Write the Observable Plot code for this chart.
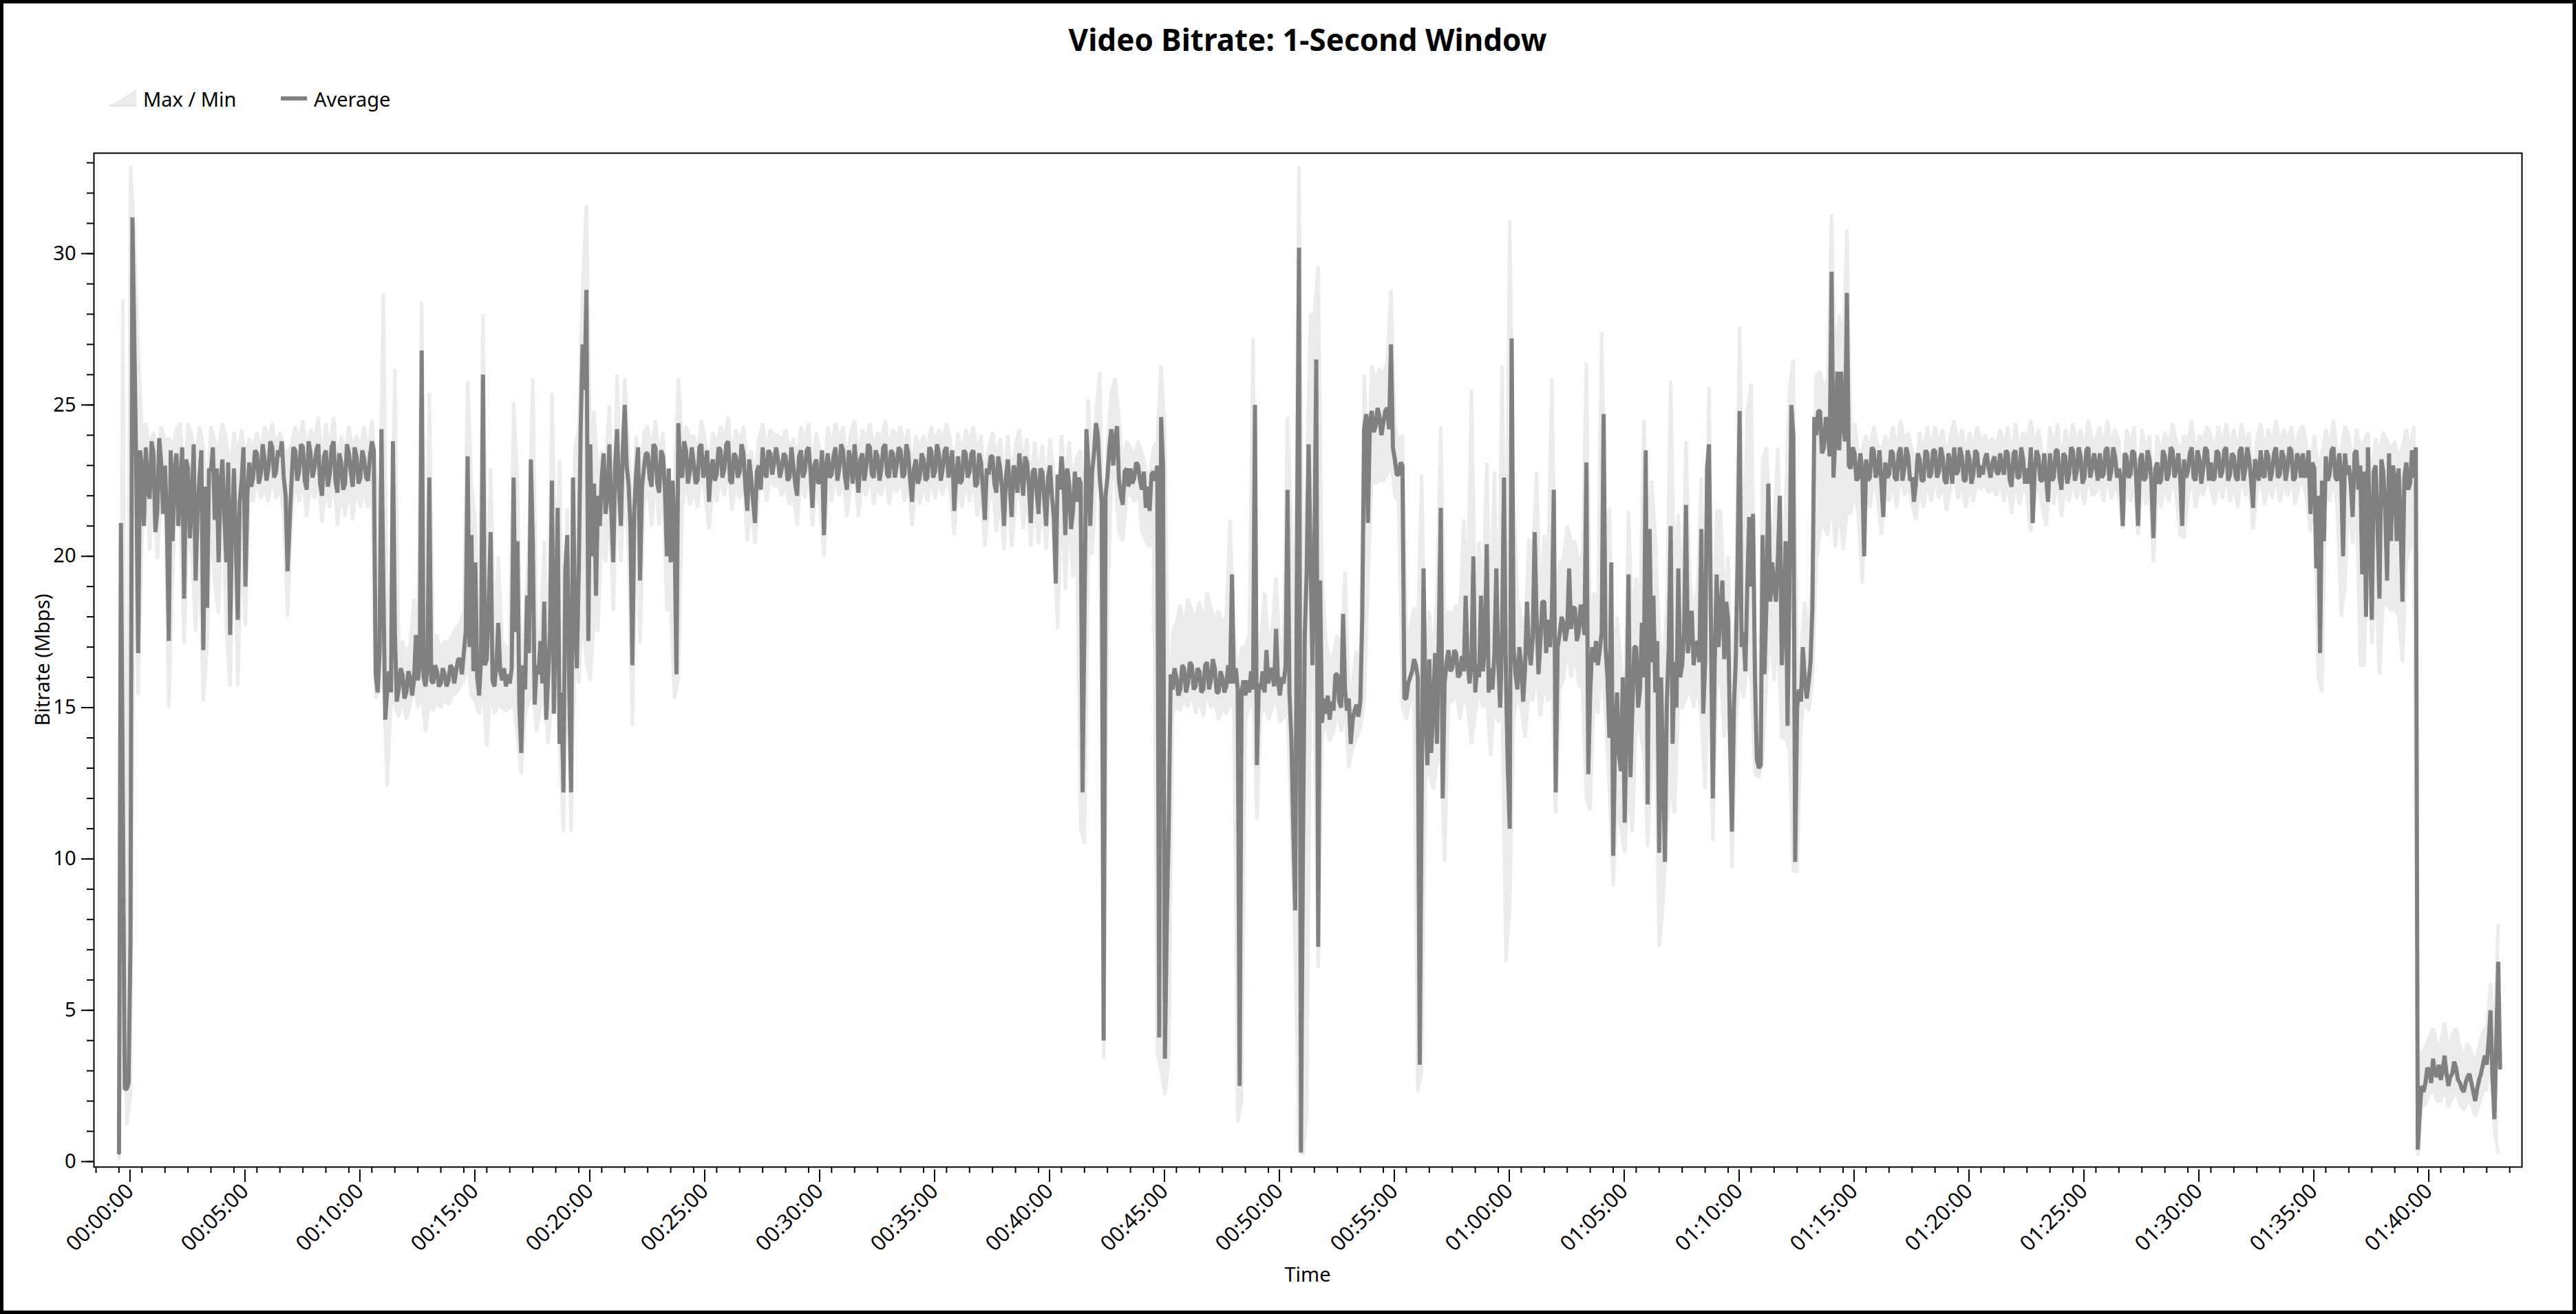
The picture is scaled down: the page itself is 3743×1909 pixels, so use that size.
<!DOCTYPE html>
<html>
<head>
<meta charset="utf-8">
<script src="https://cdn.jsdelivr.net/npm/d3@7"></script>
<script src="https://cdn.jsdelivr.net/npm/@observablehq/plot@0.6"></script>
<style>
  html, body { margin: 0; padding: 0; background: #fff; }
  #page { position: relative; width: 3743px; height: 1909px; overflow: hidden; background: #fff; font-family: "Noto Sans", sans-serif; }
  #border { position: absolute; left: 0; top: 0; width: 3743px; height: 1909px; box-sizing: border-box; border: 5px solid #000; pointer-events: none; }
  #title { position: absolute; left: 136px; width: 3528px; top: 29px; text-align: center; font-weight: 700; font-size: 44px; line-height: 56px; color: #000; }
  #chart { position: absolute; left: 0; top: 0; }
</style>
</head>
<body>
<div id="page">
  <div id="chart"></div>
  <div id="title"></div>
  <div id="border"></div>
</div>
<script>
// ---- data (Mbps). Average read every 5 s, Max/Min band read every 10 s ----
const avgStepSeconds = 5;
const bandStepSeconds = 10;

const average = [
  0.3, 21.1, 12.0, 2.4, 2.4, 2.6, 7.3, 31.2, 27.1, 22.9, 16.8, 23.5,
  22.9, 21.0, 23.6, 22.2, 21.9, 23.8, 23.4, 20.8, 21.5, 23.9, 23.1, 21.4,
  23.0, 21.2, 17.2, 23.5, 20.5, 22.8, 23.4, 21.0, 22.5, 23.6, 18.6, 23.2,
  22.9, 20.6, 21.8, 23.7, 19.2, 21.4, 22.6, 23.5, 16.9, 22.3, 18.3, 22.9,
  22.8, 23.6, 21.2, 22.9, 19.8, 22.4, 23.2, 21.3, 19.8, 23.1, 17.4, 21.0,
  22.9, 20.5, 17.9, 21.8, 22.5, 23.6, 19.0, 22.0, 23.1, 22.3, 22.6, 23.5,
  23.4, 22.4, 22.7, 23.7, 23.2, 22.5, 22.9, 23.8, 23.6, 22.6, 22.8, 23.5,
  23.3, 23.8, 22.6, 22.0, 19.5, 21.0, 22.4, 23.6, 23.5, 22.5, 22.8, 23.7,
  23.6, 22.5, 22.2, 23.8, 23.4, 22.6, 22.9, 23.5, 23.7, 22.4, 22.0, 23.3,
  23.5, 22.3, 22.7, 23.6, 23.8, 22.5, 22.1, 23.4, 23.1, 22.2, 22.4, 23.7,
  23.4, 22.8, 22.3, 23.6, 23.3, 22.4, 22.6, 23.5, 23.2, 22.6, 22.5, 23.3,
  23.8, 23.5, 16.1, 15.5, 16.8, 24.2, 19.0, 14.6, 15.6, 16.2, 15.5, 23.8,
  17.5, 15.2, 15.6, 16.3, 16.1, 15.3, 15.5, 16.2, 16.0, 15.4, 15.9, 17.4,
  15.9, 16.4, 26.8, 16.0, 15.7, 16.3, 22.6, 15.9, 15.8, 16.4, 16.2, 15.7,
  15.8, 16.3, 16.1, 15.7, 15.9, 16.4, 16.3, 15.8, 16.2, 16.6, 16.6, 16.1,
  16.8, 17.5, 23.3, 17.0, 20.7, 16.2, 19.8, 16.0, 15.4, 16.6, 26.0, 16.4,
  16.6, 18.5, 20.8, 15.9, 15.7, 16.4, 17.8, 16.2, 15.9, 16.3, 15.7, 16.1,
  15.8, 16.3, 22.6, 17.5, 20.5, 15.0, 13.5, 16.4, 15.6, 18.7, 16.8, 23.2,
  20.5, 15.1, 16.4, 16.1, 17.2, 15.8, 18.5, 14.6, 16.0, 17.5, 22.5, 14.8,
  17.9, 21.6, 13.8, 15.5, 12.2, 19.6, 20.7, 15.8, 12.2, 22.6, 18.0, 16.3,
  19.5, 24.2, 27.0, 25.5, 28.8, 17.2, 23.7, 20.0, 22.4, 18.7, 22.0, 21.0,
  22.6, 23.4, 21.4, 22.0, 23.7, 21.5, 19.8, 23.0, 24.2, 22.2, 21.0, 23.5,
  25.0, 23.0, 22.4, 21.0, 16.4, 21.5, 22.8, 23.6, 19.2, 22.3, 22.9, 23.4,
  23.4, 22.6, 22.3, 23.7, 23.6, 22.4, 22.1, 23.5, 23.3, 22.2, 20.0, 22.9,
  19.8, 22.5, 21.0, 16.1, 24.4, 22.8, 22.6, 23.8, 23.5, 22.4, 22.8, 23.6,
  23.1, 22.4, 22.5, 23.6, 23.7, 22.6, 22.9, 23.5, 21.8, 22.9, 23.2, 22.5,
  22.7, 23.6, 23.5, 22.6, 22.9, 23.7, 23.8, 22.5, 22.4, 23.4, 23.3, 22.6,
  22.8, 23.7, 23.4, 22.3, 21.5, 23.2, 22.6, 21.8, 21.1, 22.8, 23.0, 22.2,
  23.6, 22.8, 22.6, 23.5, 23.4, 22.7, 23.1, 23.6, 23.2, 22.6, 22.9, 23.4,
  23.3, 22.5, 22.6, 23.6, 23.0, 22.4, 22.0, 23.3, 23.5, 22.6, 22.8, 23.5,
  23.6, 22.8, 21.6, 23.0, 23.2, 22.4, 22.5, 23.5, 20.7, 22.9, 23.4, 22.6,
  22.7, 23.3, 23.6, 22.5, 22.9, 23.7, 23.5, 22.6, 22.2, 23.5, 23.2, 22.4,
  23.7, 22.9, 22.1, 23.2, 23.4, 22.5, 22.9, 23.7, 23.6, 22.7, 22.6, 23.5,
  23.3, 22.5, 22.9, 23.6, 23.7, 22.7, 22.6, 23.5, 23.4, 22.6, 23.0, 23.6,
  23.5, 22.6, 22.7, 23.7, 23.4, 22.5, 21.8, 22.9, 23.2, 22.4, 22.6, 23.4,
  23.2, 22.5, 22.6, 23.6, 23.5, 22.6, 22.8, 23.7, 23.4, 22.5, 22.9, 23.5,
  23.6, 22.6, 23.0, 23.5, 21.5, 22.6, 23.3, 22.4, 22.5, 23.5, 23.4, 22.6,
  22.8, 23.4, 23.5, 22.3, 22.4, 23.4, 23.1, 22.2, 21.2, 22.9, 22.7, 23.3,
  23.3, 22.4, 22.1, 23.3, 22.9, 22.2, 21.0, 22.6, 23.2, 22.3, 21.3, 23.0,
  22.8, 22.1, 23.4, 22.8, 22.0, 23.3, 23.1, 22.3, 21.1, 22.8, 22.9, 22.2,
  21.4, 22.9, 22.8, 21.9, 21.0, 22.6, 23.0, 22.0, 21.3, 19.1, 22.7, 22.2,
  23.3, 22.6, 20.7, 22.9, 22.4, 20.9, 21.5, 22.8, 21.8, 22.6, 22.4, 12.2,
  18.0, 24.2, 23.0, 21.0, 22.8, 23.4, 24.4, 24.0, 22.6, 21.8, 4.0, 22.0,
  22.6, 23.6, 24.2, 23.0, 23.9, 24.3, 22.5, 22.0, 21.7, 22.8, 22.9, 22.3,
  22.9, 22.4, 22.6, 23.1, 23.0, 22.5, 22.2, 22.8, 21.6, 22.3, 21.5, 22.7,
  22.8, 22.5, 23.0, 4.1, 24.6, 23.0, 3.4, 8.0, 11.2, 16.1, 15.6, 16.3,
  16.0, 15.4, 15.6, 16.4, 16.3, 15.5, 15.8, 16.5, 16.4, 15.6, 15.7, 16.3,
  16.2, 15.5, 15.6, 16.4, 16.5, 15.6, 15.9, 16.6, 16.3, 15.5, 15.5, 16.2,
  16.0, 15.5, 15.7, 16.4, 15.8, 19.4, 15.8, 16.3, 15.6, 2.5, 15.5, 15.9,
  15.4, 15.9, 15.5, 16.2, 15.6, 25.0, 13.1, 15.8, 15.6, 16.2, 15.5, 16.9,
  15.8, 16.3, 16.2, 15.7, 17.6, 15.9, 15.4, 16.0, 15.8, 16.4, 22.2, 15.5,
  14.0, 11.0, 8.3, 20.9, 30.2, 0.3, 10.0, 17.4, 19.5, 23.7, 20.0, 16.4,
  20.0, 26.5, 7.1, 19.2, 14.5, 15.3, 14.8, 15.4, 14.6, 15.2, 14.9, 16.1,
  16.1, 15.2, 15.0, 18.1, 15.6, 14.9, 15.3, 13.8, 14.6, 14.9, 15.1, 14.7,
  15.2, 18.0, 24.2, 24.7, 21.1, 24.5, 24.8, 24.1, 24.3, 24.9, 24.6, 24.0,
  24.4, 24.8, 24.9, 24.2, 27.0, 23.6, 23.2, 22.7, 22.7, 23.1, 23.0, 15.3,
  15.3, 15.8, 16.0, 16.2, 16.6, 16.4, 16.0, 3.2, 12.0, 19.6, 15.0, 13.1,
  16.6, 13.5, 15.0, 16.8, 13.8, 17.5, 21.6, 12.0, 15.8, 16.5, 16.9, 16.2,
  16.3, 16.9, 16.8, 16.0, 16.1, 16.7, 16.2, 18.7, 16.5, 15.8, 16.4, 20.0,
  15.5, 16.4, 16.0, 18.7, 16.2, 17.0, 20.4, 15.5, 16.3, 15.6, 16.8, 19.6,
  16.5, 15.0, 17.5, 22.6, 16.0, 13.0, 11.0, 27.2, 17.0, 16.1, 15.6, 17.0,
  16.4, 15.2, 16.3, 18.5, 17.0, 16.4, 17.3, 20.8, 18.0, 16.1, 17.2, 18.5,
  18.5, 16.8, 17.9, 17.0, 18.2, 22.2, 12.2, 17.0, 17.4, 18.0, 17.8, 17.2,
  17.6, 19.6, 17.6, 18.3, 18.3, 17.2, 17.5, 18.4, 18.0, 17.4, 23.1, 12.8,
  15.5, 17.0, 16.5, 17.2, 16.4, 16.9, 17.5, 24.7, 17.0, 16.0, 14.0, 19.8,
  10.1, 14.0, 15.5, 13.5, 12.9, 16.0, 11.2, 14.5, 19.4, 12.7, 15.0, 17.0,
  17.0, 15.0, 15.6, 17.8, 16.0, 23.5, 11.8, 20.9, 16.5, 18.7, 15.5, 17.2,
  10.2, 16.0, 13.0, 9.9, 15.2, 17.0, 21.0, 13.8, 16.5, 15.0, 19.6, 16.0,
  16.4, 17.5, 21.7, 16.8, 17.5, 18.2, 16.4, 17.0, 17.2, 16.5, 20.9, 14.8,
  16.5, 22.9, 23.7, 18.0, 12.0, 16.5, 19.4, 17.0, 18.2, 19.2, 16.6, 18.5,
  17.9, 14.0, 10.9, 15.0, 16.6, 20.0, 24.8, 17.0, 17.5, 16.2, 19.0, 21.3,
  19.0, 21.4, 16.0, 13.3, 13.0, 13.1, 20.7, 16.1, 18.5, 22.4, 18.5, 19.8,
  19.0, 18.5, 20.0, 22.0, 16.4, 18.0, 20.5, 14.4, 19.0, 25.0, 24.0, 9.9,
  15.0, 15.6, 15.2, 17.0, 16.0, 15.3, 15.8, 16.5, 18.3, 24.6, 24.0, 24.8,
  24.8, 23.4, 23.6, 24.6, 24.2, 23.3, 29.4, 22.6, 24.0, 26.1, 23.5, 26.1,
  24.3, 23.8, 28.7, 23.0, 22.9, 23.6, 23.4, 22.5, 22.6, 23.4, 22.8, 20.0,
  23.2, 22.5, 22.6, 23.6, 23.5, 22.6, 22.8, 23.5, 22.4, 21.3, 23.1, 22.6,
  22.7, 23.5, 23.4, 22.6, 22.5, 23.4, 23.6, 22.5, 22.9, 23.6, 23.3, 22.5,
  22.6, 21.8, 22.4, 23.4, 23.2, 22.5, 22.5, 23.5, 23.4, 22.6, 22.7, 23.5,
  23.5, 22.6, 22.8, 23.6, 23.3, 22.5, 22.4, 23.4, 23.1, 22.4, 23.6, 22.7,
  22.8, 23.6, 23.3, 22.5, 22.5, 23.5, 23.2, 22.4, 22.7, 23.5, 23.4, 22.6,
  23.0, 22.7, 23.2, 23.4, 22.9, 22.6, 23.1, 23.3, 22.8, 22.7, 23.4, 22.9,
  22.7, 23.5, 23.4, 22.5, 22.3, 23.4, 23.5, 22.6, 22.6, 23.6, 23.2, 22.4,
  22.9, 22.4, 23.6, 21.1, 22.8, 23.5, 23.3, 22.5, 22.5, 23.4, 22.6, 21.8,
  23.4, 22.5, 22.6, 23.5, 23.5, 22.6, 22.2, 23.4, 23.3, 22.4, 22.7, 23.6,
  23.5, 22.5, 22.8, 23.6, 23.3, 22.4, 22.6, 23.5, 23.6, 22.6, 22.9, 23.4,
  23.0, 22.5, 23.4, 22.6, 22.7, 23.5, 23.6, 22.5, 22.8, 23.6, 23.3, 22.6,
  22.9, 22.5, 21.0, 23.4, 23.3, 22.6, 22.7, 23.5, 23.4, 22.6, 21.0, 23.2,
  23.4, 22.5, 22.6, 23.5, 23.2, 22.4, 20.6, 22.9, 23.1, 22.4, 22.5, 23.5,
  23.3, 22.5, 22.7, 23.6, 23.5, 22.6, 22.9, 23.4, 22.6, 21.0, 23.2, 22.6,
  22.8, 23.4, 23.6, 22.6, 22.5, 23.5, 23.2, 22.4, 22.9, 23.6, 23.5, 22.5,
  23.1, 22.5, 22.6, 23.5, 23.4, 22.6, 22.8, 23.5, 23.6, 22.5, 22.7, 23.4,
  23.3, 22.6, 22.5, 23.5, 23.6, 22.5, 22.9, 23.6, 23.2, 22.5, 21.6, 23.2,
  23.0, 22.5, 23.5, 22.7, 22.6, 23.5, 23.3, 22.5, 22.8, 23.4, 23.6, 22.6,
  22.7, 23.5, 23.3, 22.5, 22.9, 23.6, 23.5, 22.5, 22.6, 23.4, 23.2, 22.6,
  23.4, 22.6, 22.8, 23.5, 21.4, 23.1, 22.9, 19.6, 22.0, 16.8, 22.5, 20.5,
  23.3, 22.5, 22.7, 23.5, 23.6, 22.6, 22.5, 23.4, 22.8, 20.0, 23.4, 22.7,
  23.0, 22.4, 21.3, 23.4, 23.5, 22.2, 23.0, 19.4, 22.8, 18.0, 23.6, 21.0,
  17.9, 22.8, 23.0, 21.0, 18.6, 23.2, 22.8, 21.5, 19.2, 23.4, 20.5, 23.0,
  22.6, 20.5, 22.9, 21.2, 18.5, 22.6, 23.1, 22.2, 22.4, 23.5, 22.6, 23.6,
  0.4, 1.6, 2.5, 2.3, 2.6, 3.1, 3.0, 2.6, 3.4, 2.9, 2.8, 3.2,
  2.7, 3.0, 3.5, 2.9, 2.5, 2.8, 2.9, 3.3, 3.1, 2.7, 2.6, 2.4,
  2.3, 2.6, 2.8, 2.9, 2.6, 2.3, 2.0, 2.4, 2.7, 2.9, 3.2, 3.5,
  3.2, 4.0, 5.0, 2.8, 1.4, 4.0, 6.6, 3.1
];

const maximum = [
  0.5, 28.5, 3.2, 32.9, 30.5, 27.0,
  24.0, 24.4, 23.6, 24.1, 23.0, 24.3,
  23.8, 23.9, 23.6, 24.2, 24.4, 22.4,
  24.4, 24.0, 23.2, 24.3, 23.6, 22.0,
  24.3, 23.8, 23.5, 24.4, 23.9, 22.8,
  24.1, 23.3, 24.2, 23.2, 23.9, 23.5,
  24.1, 23.5, 24.3, 23.8, 24.4, 23.6,
  24.1, 23.6, 23.4, 23.7, 24.3, 23.7,
  24.5, 23.4, 24.2, 23.8, 24.6, 23.1,
  24.4, 23.5, 24.6, 23.2, 24.0, 23.4,
  24.3, 23.5, 24.0, 23.6, 24.3, 23.3,
  24.5, 22.8, 20.5, 28.7, 18.0, 19.2,
  26.2, 16.8, 17.2, 16.7, 17.1, 18.6,
  17.0, 28.4, 17.3, 25.4, 17.0, 17.4,
  16.9, 17.2, 17.1, 17.4, 17.6, 17.8,
  18.2, 25.8, 22.4, 21.2, 17.2, 28.0,
  18.0, 22.9, 17.6, 20.0, 17.2, 17.0,
  16.9, 25.1, 22.5, 15.8, 18.0, 20.5,
  25.9, 17.6, 17.4, 20.5, 16.5, 25.4,
  19.5, 23.2, 15.0, 21.6, 15.5, 23.6,
  24.2, 28.9, 31.6, 23.5, 24.8, 22.5,
  23.5, 23.0, 25.0, 21.2, 26.0, 22.5,
  25.9, 23.6, 21.0, 24.0, 21.6, 24.1,
  24.3, 23.4, 24.5, 23.3, 24.1, 21.8,
  22.0, 22.5, 25.9, 23.7, 24.3, 23.9,
  24.0, 23.4, 24.5, 23.8, 23.0, 24.1,
  23.6, 24.3, 23.8, 24.6, 23.3, 24.2,
  23.7, 24.3, 23.0, 23.5, 22.5, 23.9,
  24.4, 23.5, 24.2, 24.0, 24.0, 23.8,
  24.2, 23.5, 23.9, 23.2, 24.3, 23.7,
  24.4, 22.8, 24.1, 23.4, 22.6, 24.3,
  23.6, 24.4, 23.8, 24.3, 23.1, 24.1,
  24.5, 23.2, 24.2, 23.8, 24.4, 23.5,
  24.1, 23.8, 24.5, 23.5, 24.2, 23.9,
  24.3, 23.6, 24.2, 22.8, 24.0, 23.5,
  24.0, 23.5, 24.3, 23.7, 24.2, 23.8,
  24.4, 23.8, 22.8, 24.1, 23.4, 24.2,
  23.7, 24.3, 23.4, 24.0, 22.5, 23.6,
  24.1, 23.2, 23.9, 22.4, 24.0, 22.6,
  23.7, 24.2, 23.1, 23.9, 22.4, 23.8,
  22.6, 23.7, 22.2, 23.9, 22.7, 21.6,
  24.0, 22.5, 23.8, 22.3, 23.3, 23.5,
  21.5, 25.2, 22.8, 24.8, 26.1, 20.0,
  23.8, 25.4, 25.9, 24.5, 23.0, 23.8,
  23.6, 23.3, 23.8, 23.4, 22.9, 22.6,
  23.6, 23.8, 26.3, 24.0, 14.5, 17.5,
  17.8, 18.4, 17.6, 18.6, 18.2, 17.9,
  18.5, 17.7, 18.8, 18.3, 17.9, 18.2,
  17.8, 18.0, 21.2, 17.5, 16.0, 17.0,
  17.0, 17.4, 27.2, 16.5, 17.2, 18.8,
  17.1, 17.6, 19.3, 16.8, 17.4, 24.6,
  20.9, 18.0, 32.9, 18.0, 22.5, 28.0,
  28.0, 29.6, 19.2, 17.2, 16.5, 16.8,
  17.4, 16.8, 19.5, 15.6, 15.9, 16.9,
  16.0, 26.0, 23.0, 26.3, 25.8, 26.2,
  26.0, 26.4, 28.8, 24.3, 23.8, 24.0,
  17.6, 17.6, 18.3, 17.5, 22.7, 15.5,
  18.2, 16.5, 18.9, 24.3, 17.5, 18.2,
  18.0, 18.4, 18.2, 21.2, 18.5, 25.5,
  18.2, 20.5, 18.5, 23.1, 17.9, 22.8,
  17.0, 26.3, 18.0, 31.1, 22.0, 18.6,
  18.0, 17.5, 20.6, 19.8, 22.8, 18.0,
  20.7, 19.6, 25.9, 17.8, 19.8, 19.9,
  21.0, 20.5, 20.5, 19.8, 20.1, 26.4,
  17.5, 18.8, 18.2, 27.4, 20.3, 21.6,
  15.8, 18.0, 16.5, 14.9, 21.5, 17.6,
  19.3, 17.9, 24.5, 21.0, 22.5, 20.6,
  17.5, 16.0, 18.4, 25.8, 19.0, 21.4,
  18.5, 23.8, 19.2, 18.2, 19.0, 22.6,
  17.9, 25.6, 16.6, 21.5, 21.5, 18.5,
  20.0, 15.2, 18.6, 27.6, 19.5, 24.8,
  25.7, 17.5, 13.5, 23.2, 23.6, 21.0,
  21.0, 23.6, 18.2, 21.8, 25.5, 26.5,
  16.5, 16.8, 18.5, 17.2, 19.5, 26.0,
  26.1, 25.5, 25.9, 31.3, 26.0, 28.0,
  26.9, 30.8, 24.0, 24.4, 23.4, 23.5,
  24.0, 23.5, 24.3, 23.7, 23.4, 24.0,
  23.6, 24.3, 23.4, 24.5, 23.8, 24.1,
  23.5, 22.7, 24.1, 23.4, 24.3, 23.6,
  24.3, 23.7, 24.2, 23.3, 24.0, 24.5,
  23.7, 24.2, 23.4, 24.1, 23.6, 24.3,
  23.8, 24.0, 23.7, 23.9, 23.6, 24.2,
  23.6, 24.3, 23.2, 24.4, 23.5, 24.1,
  23.8, 24.5, 23.6, 24.2, 23.4, 22.7,
  24.3, 23.5, 24.4, 23.1, 24.2, 23.6,
  24.4, 23.7, 24.2, 23.5, 24.5, 23.8,
  23.9, 24.3, 23.6, 24.5, 23.7, 24.2,
  23.8, 21.9, 24.2, 23.6, 24.3, 22.0,
  24.2, 23.5, 24.0, 22.0, 24.0, 23.4,
  24.1, 23.6, 24.4, 23.8, 23.5, 24.0,
  23.7, 24.5, 23.3, 24.0, 23.8, 24.3,
  24.0, 23.5, 24.3, 23.6, 24.4, 23.6,
  24.2, 23.4, 24.4, 23.7, 24.1, 22.6,
  23.9, 24.4, 23.5, 24.2, 23.7, 24.5,
  23.6, 24.2, 23.8, 24.3, 23.5, 24.1,
  24.3, 23.7, 22.6, 24.0, 23.0, 23.4,
  24.2, 23.6, 24.5, 23.4, 23.5, 24.3,
  24.0, 22.8, 24.2, 23.6, 23.8, 24.1,
  22.5, 23.9, 23.4, 24.1, 23.8, 23.5,
  23.8, 23.2, 23.6, 24.2, 23.5, 24.3,
  2.0, 3.6, 3.8, 4.1, 4.4, 3.9,
  3.9, 4.6, 3.7, 4.2, 4.4, 3.8,
  3.5, 3.9, 3.6, 3.3, 3.8, 4.3,
  4.4, 5.9, 4.0, 7.8
];

const minimum = [
  0.1, 9.7, 1.2, 2.2, 22.0, 15.4,
  20.6, 22.5, 20.2, 22.3, 19.9, 22.0,
  22.1, 15.0, 19.4, 22.5, 21.0, 17.1,
  20.9, 20.0, 17.5, 20.4, 15.2, 17.0,
  21.4, 19.0, 18.1, 21.9, 17.6, 15.7,
  21.2, 15.7, 20.3, 17.7, 22.2, 21.8,
  22.6, 21.9, 22.3, 21.8, 22.7, 21.9,
  22.3, 21.4, 18.0, 21.2, 22.6, 21.8,
  22.5, 21.3, 22.4, 21.9, 22.6, 21.1,
  22.4, 21.6, 22.7, 21.0, 22.2, 21.3,
  22.3, 21.2, 22.4, 21.6, 22.2, 21.6,
  22.5, 15.3, 15.6, 16.0, 12.4, 15.2,
  15.1, 14.7, 15.3, 14.6, 15.1, 15.8,
  15.0, 15.4, 14.2, 15.3, 14.9, 15.2,
  15.0, 15.3, 15.1, 15.4, 15.5, 15.7,
  15.9, 16.5, 15.4, 15.2, 14.8, 15.6,
  13.7, 15.6, 14.8, 15.1, 15.0, 14.9,
  15.0, 15.2, 14.0, 12.8, 14.8, 15.2,
  15.5, 14.2, 15.0, 15.4, 13.8, 15.3,
  16.4, 13.8, 10.9, 16.8, 10.9, 17.0,
  15.8, 18.2, 16.5, 15.9, 18.0, 17.5,
  20.8, 19.8, 21.6, 18.2, 22.2, 19.8,
  22.4, 20.1, 14.4, 21.2, 17.1, 21.7,
  22.4, 21.0, 22.7, 21.0, 22.3, 18.2,
  18.4, 15.3, 16.0, 21.6, 22.5, 21.7,
  22.2, 21.6, 22.8, 22.0, 20.9, 22.3,
  21.8, 22.6, 22.0, 22.9, 21.5, 22.4,
  21.9, 22.5, 20.5, 21.7, 20.4, 22.1,
  22.8, 21.8, 22.6, 22.3, 22.4, 22.0,
  22.4, 21.7, 22.1, 21.0, 22.6, 21.9,
  22.7, 21.0, 22.3, 21.6, 20.0, 22.5,
  21.8, 22.7, 22.0, 22.6, 21.3, 22.3,
  22.8, 21.3, 22.5, 22.0, 22.7, 21.7,
  22.4, 22.0, 22.8, 21.7, 22.5, 22.1,
  22.6, 21.8, 22.5, 21.0, 22.3, 21.7,
  22.4, 21.8, 22.6, 21.9, 22.5, 22.0,
  22.7, 22.1, 20.7, 22.4, 21.6, 22.5,
  21.8, 22.6, 21.3, 22.2, 20.3, 21.7,
  22.3, 20.8, 21.8, 20.2, 22.2, 20.3,
  21.8, 22.4, 20.9, 22.1, 20.3, 21.8,
  20.4, 21.8, 20.2, 22.0, 20.4, 17.6,
  22.1, 18.9, 21.6, 19.3, 20.6, 11.0,
  10.5, 20.0, 20.1, 22.3, 22.8, 3.4,
  18.0, 22.5, 22.6, 20.8, 20.5, 22.0,
  22.1, 21.8, 22.2, 20.8, 20.5, 20.3,
  21.9, 3.6, 3.0, 2.2, 3.4, 14.8,
  15.1, 14.9, 15.4, 15.0, 15.5, 14.8,
  15.3, 14.7, 15.6, 15.0, 15.2, 14.6,
  15.0, 14.8, 15.2, 14.9, 1.3, 2.0,
  14.6, 15.0, 15.3, 11.3, 14.7, 15.2,
  14.6, 15.0, 15.4, 14.5, 14.7, 14.8,
  11.0, 7.0, 0.5, 0.2, 1.5, 16.5,
  15.0, 6.4, 14.0, 14.5, 13.9, 14.2,
  15.0, 14.2, 15.1, 13.0, 13.7, 14.0,
  14.3, 15.2, 19.2, 22.6, 22.4, 22.5,
  22.5, 22.7, 23.2, 22.0, 21.8, 15.0,
  14.6, 15.2, 15.5, 2.3, 3.0, 12.6,
  13.0, 12.3, 13.2, 13.5, 9.9, 15.2,
  15.2, 15.6, 14.6, 15.5, 15.0, 13.8,
  14.8, 15.6, 15.0, 15.5, 13.4, 15.2,
  14.5, 15.4, 6.6, 8.5, 14.6, 15.5,
  15.0, 14.0, 15.6, 15.2, 16.2, 14.7,
  15.8, 15.2, 16.0, 11.5, 15.6, 15.9,
  17.0, 16.0, 16.8, 15.8, 15.6, 12.0,
  11.6, 15.6, 14.8, 16.4, 14.8, 12.3,
  9.1, 12.0, 11.0, 10.2, 12.4, 10.9,
  14.6, 14.2, 13.5, 10.4, 13.0, 14.9,
  7.1, 8.5, 11.0, 12.6, 11.5, 15.0,
  15.0, 15.3, 15.7, 15.0, 15.8, 14.6,
  12.3, 16.5, 10.6, 15.6, 16.2, 14.0,
  15.5, 9.7, 14.4, 16.0, 15.3, 16.4,
  16.0, 12.8, 12.7, 13.2, 15.8, 17.5,
  15.9, 17.5, 14.0, 14.0, 13.6, 9.6,
  9.6, 14.4, 15.4, 14.9, 15.8, 19.8,
  20.9, 21.0, 20.7, 22.0, 20.3, 21.8,
  20.2, 21.5, 21.4, 22.1, 21.4, 19.1,
  22.3, 21.6, 22.6, 21.9, 20.7, 22.2,
  21.8, 22.5, 21.6, 22.7, 22.0, 22.4,
  21.7, 21.2, 22.3, 21.6, 22.5, 21.8,
  22.6, 21.9, 22.4, 21.5, 22.2, 22.7,
  21.9, 22.4, 21.6, 22.3, 21.8, 22.5,
  22.2, 22.4, 22.1, 22.3, 22.0, 22.5,
  21.8, 22.5, 21.4, 22.6, 21.7, 22.3,
  22.0, 20.8, 21.9, 22.4, 21.6, 21.0,
  22.5, 21.7, 22.6, 21.3, 22.4, 21.8,
  22.6, 21.9, 22.4, 21.7, 22.7, 22.0,
  22.1, 22.5, 21.8, 22.7, 21.9, 22.4,
  22.0, 20.9, 22.4, 21.8, 22.5, 20.7,
  22.5, 21.7, 22.3, 19.8, 22.2, 21.6,
  22.4, 21.8, 22.6, 22.0, 20.7, 20.6,
  21.9, 22.7, 21.6, 22.3, 22.0, 22.6,
  22.2, 21.7, 22.5, 21.9, 22.7, 21.8,
  22.4, 21.6, 22.7, 22.0, 22.3, 20.9,
  22.1, 22.6, 21.7, 22.4, 21.9, 22.7,
  21.8, 22.4, 22.0, 22.6, 21.7, 22.3,
  22.5, 21.9, 20.8, 22.2, 16.0, 15.5,
  22.4, 21.8, 22.7, 21.6, 18.0, 19.0,
  22.1, 20.4, 22.0, 16.4, 16.4, 21.2,
  17.1, 19.0, 16.1, 18.5, 18.4, 18.2,
  18.3, 18.0, 16.5, 19.8, 20.3, 21.5,
  0.2, 1.8, 1.9, 2.2, 2.4, 2.0,
  2.0, 2.5, 1.8, 2.1, 2.3, 1.9,
  1.7, 2.0, 1.9, 1.5, 1.9, 2.3,
  2.4, 3.6, 1.0, 0.3
];

// axis tick positions (seconds / Mbps)
const xMajorTicks = [0, 300, 600, 900, 1200, 1500, 1800, 2100, 2400, 2700, 3000, 3300, 3600,
                     3900, 4200, 4500, 4800, 5100, 5400, 5700, 6000];
const xMinorTicks = d3.range(-60, 6241, 60);
const yMajorTicks = [0, 5, 10, 15, 20, 25, 30];
const yMinorTicks = d3.range(0, 34, 1);

const titleText = "Video Bitrate: 1-Second Window";
const xLabel = "Time";
const yLabel = "Bitrate (Mbps)";
const legendLabels = ["Max / Min", "Average"];

const colAvg = "#808080";
const colBand = "#ebebeb";

// ---- build tables ----
const avgData = average.map((v, i) => ({ t: i * avgStepSeconds, v }));
const bandData = maximum.map((v, i) => ({ t: i * bandStepSeconds, hi: v, lo: minimum[i] }));

const pad2 = v => String(v).padStart(2, "0");
const hms = s => `${pad2(Math.floor(s / 3600))}:${pad2(Math.floor((s % 3600) / 60))}:${pad2(s % 60)}`;

const W = 3743, H = 1909;
const mL = 136, mR = 79, mT = 222, mB = 214;
const FS = 29;

const chart = Plot.plot({
  width: W,
  height: H,
  marginLeft: mL,
  marginRight: mR,
  marginTop: mT,
  marginBottom: mB,
  style: { fontFamily: "'Noto Sans', sans-serif", background: "white", color: "black", overflow: "visible" },
  x: { type: "linear", domain: [-65.4, 6272] },
  y: { type: "linear", domain: [-0.18, 33.32] },
  marks: [
    Plot.areaY(bandData, { x: "t", y1: "lo", y2: "hi", fill: colBand, curve: "linear" }),
    Plot.lineY(bandData, { x: "t", y: "hi", stroke: colBand, strokeWidth: 5, strokeLinejoin: "bevel" }),
    Plot.lineY(bandData, { x: "t", y: "lo", stroke: colBand, strokeWidth: 5, strokeLinejoin: "bevel" }),
    Plot.lineY(avgData, { x: "t", y: "v", stroke: colAvg, strokeWidth: 6, strokeLinejoin: "bevel" }),
    Plot.frame({ stroke: "black", strokeWidth: 2 }),
    Plot.axisY({ ticks: yMinorTicks, tickSize: 10, tickFormat: () => "", label: null, strokeWidth: 2 }),
    Plot.axisY({ ticks: yMajorTicks, tickSize: 18, tickPadding: 8, tickFormat: d => String(d), fontSize: FS, label: null, strokeWidth: 2 }),
    Plot.axisX({ ticks: xMinorTicks, tickSize: 9, tickFormat: () => "", label: null, strokeWidth: 2 }),
    Plot.axisX({ ticks: xMajorTicks, tickSize: 18, tickPadding: 8, tickRotate: -45, tickFormat: hms, fontSize: 31, label: null, strokeWidth: 2, dx: 16, dy: 4 })
  ]
});

document.getElementById("chart").appendChild(chart);
document.getElementById("title").textContent = titleText;

// axis titles and legend drawn as plain SVG text/graphics
const svg = d3.select(chart);
svg.append("text")
  .attr("transform", `translate(60,${(mT + (H - mB)) / 2}) rotate(-90)`)
  .attr("text-anchor", "middle").attr("dominant-baseline", "central")
  .attr("font-size", FS).attr("fill", "black").text(yLabel);
svg.append("text")
  .attr("x", mL + (W - mL - mR) / 2).attr("y", 1862)
  .attr("text-anchor", "middle")
  .attr("font-size", FS).attr("fill", "black").text(xLabel);

const lg = svg.append("g").attr("transform", "translate(158,143)");
lg.append("polygon").attr("points", "0,12 40,-13 40,12").attr("fill", colBand);
lg.append("rect").attr("x", 0).attr("y", 9).attr("width", 40).attr("height", 3).attr("fill", "#e2e2e2");
lg.append("text").attr("x", 50).attr("y", 0).attr("dominant-baseline", "central")
  .attr("text-anchor", "start")
  .attr("font-size", FS).attr("fill", "black").text(legendLabels[0]);
lg.append("line").attr("x1", 250).attr("x2", 288).attr("y1", 0).attr("y2", 0)
  .attr("stroke", colAvg).attr("stroke-width", 6);
lg.append("text").attr("x", 298).attr("y", 0).attr("dominant-baseline", "central")
  .attr("text-anchor", "start")
  .attr("font-size", FS).attr("fill", "black").text(legendLabels[1]);
</script>
</body>
</html>
